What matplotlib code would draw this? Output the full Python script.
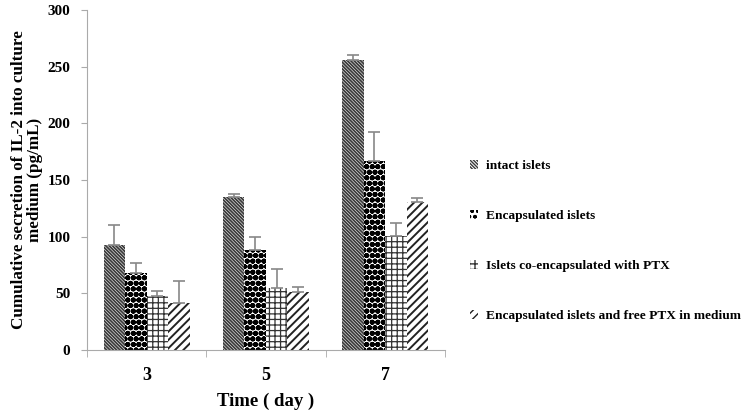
import numpy as np
import matplotlib
matplotlib.use("Agg")
import matplotlib.pyplot as plt

days = ["3", "5", "7"]
groups = [
    "intact islets",
    "Encapsulated islets",
    "Islets co-encapsulated with PTX",
    "Encapsulated islets and free PTX in medium",
]
means = [
    [93, 135, 256],
    [68, 88, 167],
    [48, 55, 101],
    [42, 51, 131],
]
errors = [
    [17, 3, 4],
    [9, 12, 25],
    [4, 17, 11],
    [19, 5, 3],
]

hatches = ["\\\\\\\\\\\\\\\\\\\\", "ooo", "+++", "////"]
edge_colors = ["#3a3a3a", "black", "#333333", "#222222"]
hatch_lw = [1.3, 2.0, 0.9, 1.4]

plt.rcParams["font.family"] = ["Liberation Serif", "DejaVu Serif"]
plt.rcParams["font.weight"] = "bold"

fig = plt.figure(figsize=(7.5, 4.12), dpi=100)
ax = fig.add_axes([0.116, 0.150, 0.477, 0.826])

x = np.arange(len(days))
width = 0.18
offsets = (np.arange(len(groups)) - 1.5) * width

handles = []
for i, g in enumerate(groups):
    with plt.rc_context({"hatch.linewidth": hatch_lw[i]}):
        b = ax.bar(x + offsets[i], means[i], width, color="white",
                   edgecolor=edge_colors[i], hatch=hatches[i], linewidth=0,
                   label=g, zorder=2)
    ax.errorbar(x + offsets[i], means[i], yerr=[np.zeros(3), errors[i]],
                fmt="none", ecolor="#888888", elinewidth=1.2, capsize=4,
                capthick=1.2, zorder=3)
    handles.append(b)

ax.set_xlim(-0.5, 2.5)
ax.set_ylim(0, 300)
ax.set_yticks(range(0, 301, 50))
ax.set_xticks(x)
ax.set_xticklabels(days, fontsize=13, fontweight="bold")
ax.set_xticks([-0.5, 0.5, 1.5, 2.5], minor=True)
ax.tick_params(axis="x", which="major", length=0, pad=12)
ax.tick_params(axis="x", which="minor", length=5, color="#aaaaaa")
ax.tick_params(axis="y", length=4, color="#aaaaaa", labelsize=11, pad=8)
for lab in ax.get_yticklabels():
    lab.set_fontweight("bold")

for s in ["top", "right"]:
    ax.spines[s].set_visible(False)
ax.spines["left"].set_color("#aaaaaa")
ax.spines["bottom"].set_color("#aaaaaa")

ax.set_xlabel("Time ( day )", fontsize=13.5, fontweight="bold", labelpad=6)
ax.set_ylabel("Cumulative secretion of IL-2 into culture\nmedium (pg/mL)",
              fontsize=12.3, fontweight="bold", linespacing=1.05, labelpad=3)

fig.legend(handles=handles, labels=groups, loc="upper left",
           bbox_to_anchor=(0.61, 0.64), frameon=False,
           prop={"family": "Liberation Serif", "weight": "bold", "size": 9.6},
           handlelength=0.6, handleheight=0.6, handletextpad=0.6,
           labelspacing=2.85)

fig.savefig("out.png", dpi=100)
